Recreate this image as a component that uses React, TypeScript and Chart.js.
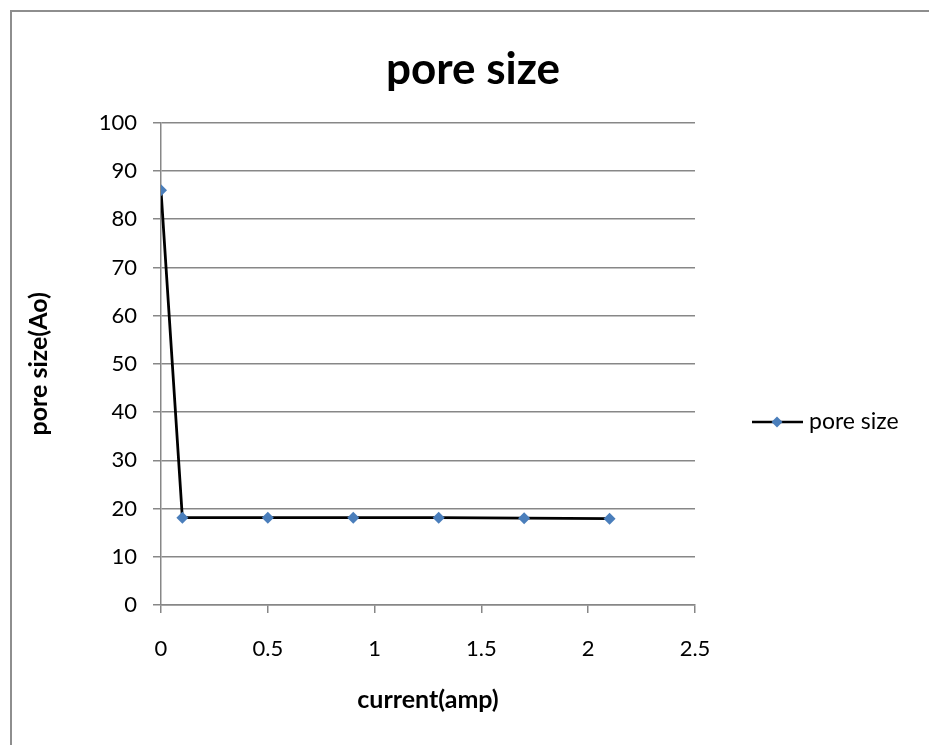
import React, { useEffect, useRef } from "react";
import { Chart, registerables } from "chart.js";

Chart.register(...registerables);

const currents = [0, 0.1, 0.5, 0.9, 1.3, 1.7, 2.1];
const poreSizes = [86, 18.1, 18.1, 18.1, 18.1, 18.0, 17.9];
const seriesName = "pore size";
const chartTitle = "pore size";
const xTitle = "current(amp)";
const yTitle = "pore size(Ao)";
const xTickValues = [0, 0.5, 1, 1.5, 2, 2.5];
const yTickValues = [0, 10, 20, 30, 40, 50, 60, 70, 80, 90, 100];

const FONT = "Lato, 'Open Sans', 'DejaVu Sans', sans-serif";
const GRID = "#878787";
const MARKER = "#4a7ebb";

const sideLegend = {
  id: "sideLegend",
  afterDraw(chart: any) {
    const ctx = chart.ctx as CanvasRenderingContext2D;
    const ds = chart.data.datasets[0];
    const x0 = chart.chartArea.right + 57;
    const y = 422;
    ctx.save();
    ctx.strokeStyle = "#000";
    ctx.lineWidth = 2.5;
    ctx.beginPath();
    ctx.moveTo(x0, y);
    ctx.lineTo(x0 + 51, y);
    ctx.stroke();
    ctx.fillStyle = MARKER;
    const cx = x0 + 25;
    const r = 5.5;
    ctx.beginPath();
    ctx.moveTo(cx, y - r);
    ctx.lineTo(cx + r, y);
    ctx.lineTo(cx, y + r);
    ctx.lineTo(cx - r, y);
    ctx.closePath();
    ctx.fill();
    ctx.fillStyle = "#000";
    ctx.font = `23px ${FONT}`;
    ctx.textAlign = "left";
    ctx.textBaseline = "middle";
    ctx.fillText(ds.label, x0 + 57, y);
    ctx.restore();
  },
};

export default function App() {
  const ref = useRef<HTMLCanvasElement | null>(null);

  useEffect(() => {
    if (!ref.current) return;
    const chart = new Chart(ref.current, {
      type: "scatter",
      data: {
        datasets: [
          {
            label: seriesName,
            data: currents.map((c, i) => ({ x: c, y: poreSizes[i] })),
            showLine: true,
            borderColor: "#000",
            borderWidth: 2.8,
            pointStyle: "rectRot",
            pointRadius: 6,
            pointHoverRadius: 6,
            pointBackgroundColor: MARKER,
            pointBorderColor: MARKER,
            pointBorderWidth: 0,
            tension: 0,
          } as any,
        ],
      },
      options: {
        animation: false,
        responsive: false,
        maintainAspectRatio: false,
        layout: { padding: { left: 17, right: 0, top: 0, bottom: 0 } },
        plugins: {
          legend: { display: false },
          tooltip: { enabled: false },
          title: {
            display: true,
            text: chartTitle,
            color: "#000",
            font: { family: FONT, size: 44, weight: "bold" },
            padding: { top: 43, bottom: 27 },
          },
        },
        scales: {
          x: {
            type: "linear",
            min: 0,
            max: 2.5,
            afterBuildTicks: (s: any) => {
              s.ticks = xTickValues.map((v) => ({ value: v }));
            },
            ticks: {
              color: "#000",
              font: { family: FONT, size: 22 },
              padding: 23,
              callback: (v: any) => String(v),
            },
            grid: {
              drawOnChartArea: false,
              drawTicks: true,
              tickLength: 8,
              color: GRID,
              lineWidth: 1.5,
            },
            border: { display: true, color: GRID, width: 1.5 },
            title: {
              display: true,
              text: xTitle,
              color: "#000",
              font: { family: FONT, size: 25, weight: "bold" },
              padding: { top: 0, bottom: 30 },
            },
            afterFit: (s: any) => {
              s.height = 140;
            },
          },
          y: {
            type: "linear",
            min: 0,
            max: 100,
            afterBuildTicks: (s: any) => {
              s.ticks = yTickValues.map((v) => ({ value: v }));
            },
            ticks: {
              color: "#000",
              font: { family: FONT, size: 22 },
              padding: 16,
            },
            grid: {
              drawTicks: true,
              tickLength: 8,
              color: GRID,
              lineWidth: 1.5,
            },
            border: { display: true, color: GRID, width: 1.5 },
            title: {
              display: true,
              text: yTitle,
              color: "#000",
              font: { family: FONT, size: 25, weight: "bold" },
              padding: { top: 7, bottom: 0 },
            },
            afterFit: (s: any) => {
              s.width = 144;
            },
          },
          legendSpace: {
            type: "linear",
            position: "right",
            display: true,
            ticks: { display: false },
            grid: { display: false, drawTicks: false },
            border: { display: false },
            afterFit: (s: any) => {
              s.width = 234;
            },
          },
        },
      } as any,
      plugins: [sideLegend],
    });
    return () => chart.destroy();
  }, []);

  return (
    <div style={{ position: "fixed", left: 0, top: 0, width: 929, height: 745, overflow: "hidden", background: "#fff" }}>
      <div
        style={{
          position: "absolute",
          left: 10,
          top: 10,
          width: 960,
          height: 800,
          borderLeft: "2px solid #8e8e8e",
          borderTop: "2px solid #8e8e8e",
        }}
      />
      <canvas ref={ref} width={929} height={745} style={{ position: "absolute", left: 0, top: 0, width: 929, height: 745 }} />
    </div>
  );
}
